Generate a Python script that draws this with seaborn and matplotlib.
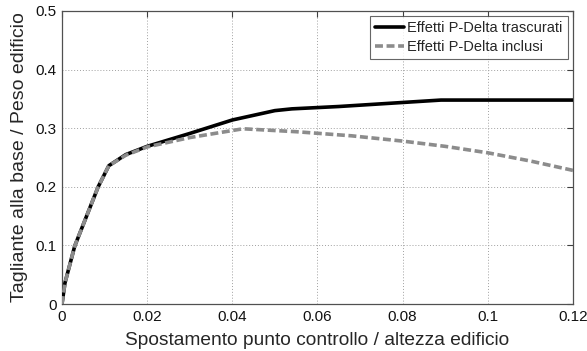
import matplotlib
matplotlib.use("Agg")
import matplotlib.pyplot as plt
import seaborn as sns
import pandas as pd

# Curve di pushover: spostamento normalizzato vs taglio alla base normalizzato
x_trascurati = [0, 0.0007, 0.003, 0.0085, 0.011, 0.015, 0.02, 0.03, 0.04, 0.05, 0.054, 0.065, 0.089, 0.12]
y_trascurati = [0, 0.036, 0.099, 0.200, 0.236, 0.255, 0.269, 0.291, 0.314, 0.330, 0.333, 0.337, 0.348, 0.348]

x_inclusi = [0, 0.0007, 0.003, 0.0085, 0.011, 0.015, 0.02, 0.03, 0.0425, 0.055, 0.068, 0.08, 0.09, 0.1, 0.11, 0.12]
y_inclusi = [0, 0.036, 0.099, 0.200, 0.236, 0.254, 0.268, 0.284, 0.299, 0.294, 0.287, 0.278, 0.269, 0.258, 0.244, 0.228]

label_trascurati = "Effetti P-Delta trascurati"
label_inclusi = "Effetti P-Delta inclusi"

x_ticks = [0, 0.02, 0.04, 0.06, 0.08, 0.1, 0.12]
x_ticklabels = ["0", "0.02", "0.04", "0.06", "0.08", "0.1", "0.12"]
y_ticks = [0, 0.1, 0.2, 0.3, 0.4, 0.5]
y_ticklabels = ["0", "0.1", "0.2", "0.3", "0.4", "0.5"]

sns.set_style("white")
plt.rcParams["font.family"] = ["Liberation Sans", "DejaVu Sans"]

fig = plt.figure(figsize=(5.87, 3.51), dpi=100)
ax = fig.add_axes([0.1056, 0.1339, 0.8705, 0.8348])

df_t = pd.DataFrame({"x": x_trascurati, "y": y_trascurati})
df_i = pd.DataFrame({"x": x_inclusi, "y": y_inclusi})

sns.lineplot(data=df_t, x="x", y="y", ax=ax, color="black", linewidth=2.6,
             label=label_trascurati, sort=False, zorder=3)
sns.lineplot(data=df_i, x="x", y="y", ax=ax, color="#8c8c8c", linewidth=2.6,
             linestyle=(0, (2.2, 1.0)), label=label_inclusi, sort=False, zorder=4)

ax.set_xlim(0, 0.12)
ax.set_ylim(0, 0.5)
ax.set_xticks(x_ticks)
ax.set_xticklabels(x_ticklabels)
ax.set_yticks(y_ticks)
ax.set_yticklabels(y_ticklabels)

ax.grid(True, color="#a0a0a0", linestyle=(0, (1, 2)), linewidth=0.7)
ax.tick_params(direction="in", length=4, width=0.8, color="#404040",
               labelsize=11, top=True, right=True, pad=4, labelcolor="#111111")
for sp in ax.spines.values():
    sp.set_color("#505050")
    sp.set_linewidth(0.9)

ax.set_xlabel("Spostamento punto controllo / altezza edificio", fontsize=13.8, labelpad=6)
ax.set_ylabel("Tagliante alla base / Peso edificio", fontsize=14, labelpad=5)

leg = ax.legend(loc="upper right", fontsize=10.5, frameon=True, fancybox=False,
                edgecolor="#404040", borderaxespad=0.35, handlelength=2.0,
                handletextpad=0.2, borderpad=0.35, labelspacing=0.35)
leg.get_frame().set_linewidth(0.8)

fig.savefig("out.png", dpi=100)
